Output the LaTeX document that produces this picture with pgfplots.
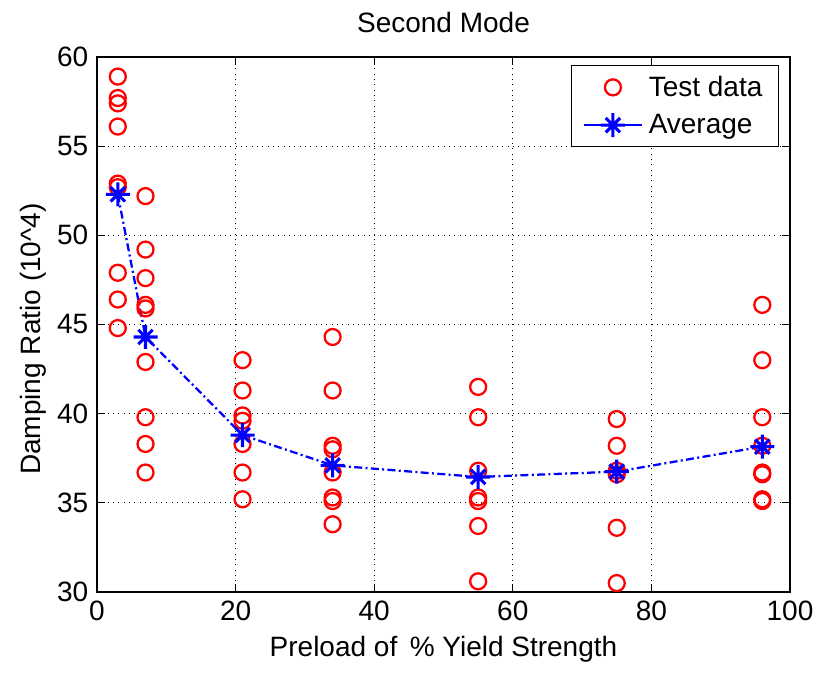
\documentclass[border=0pt]{standalone}
\usepackage{fontspec}
\setmainfont{Liberation Sans}
\usepackage{pgfplots}
\pgfplotsset{compat=1.18}
\pgfdeclareplotmark{mstar}{%
  \pgfpathmoveto{\pgfqpoint{-\pgfplotmarksize}{0pt}}%
  \pgfpathlineto{\pgfqpoint{\pgfplotmarksize}{0pt}}%
  \pgfpathmoveto{\pgfqpoint{0pt}{-\pgfplotmarksize}}%
  \pgfpathlineto{\pgfqpoint{0pt}{\pgfplotmarksize}}%
  \pgfpathmoveto{\pgfqpoint{-0.6\pgfplotmarksize}{-0.6\pgfplotmarksize}}%
  \pgfpathlineto{\pgfqpoint{0.6\pgfplotmarksize}{0.6\pgfplotmarksize}}%
  \pgfpathmoveto{\pgfqpoint{-0.6\pgfplotmarksize}{0.6\pgfplotmarksize}}%
  \pgfpathlineto{\pgfqpoint{0.6\pgfplotmarksize}{-0.6\pgfplotmarksize}}%
  \pgfusepathqstroke}
\pgfplotsset{
  circlegend/.style={legend image code/.code={\draw[##1] plot coordinates {(22pt,0pt)};}},
  starlegend/.style={legend image code/.code={\draw[##1, solid, mark repeat=2, mark phase=2] plot coordinates {(0pt,0pt)(22pt,0pt)(44pt,0pt)};}},
}
\definecolor{mred}{rgb}{1,0,0}
\definecolor{mblue}{rgb}{0,0,1}
\begin{document}
\begin{tikzpicture}
\path[use as bounding box] (-72.75pt,-60.75pt) rectangle (539.25pt,444pt);
\begin{axis}[
  at={(0,0)}, anchor=south west,
  scale only axis,
  width=519.75pt, height=401.25pt,
  xmin=0, xmax=100, ymin=30, ymax=60,
  xtick={0,20,...,100}, ytick={30,35,...,60},
  tick align=inside,
  major tick length=6pt,
  axis line style={line width=0.9pt},
  every tick/.style={black, line width=0.9pt},
  grid=major,
  major grid style={black, line width=0.7pt, dash pattern=on 0.8pt off 3.2pt},
  /pgf/number format/assume math mode=true,
  ticklabel style={font=\fontsize{21}{25}\selectfont},
  xticklabel style={yshift=-3pt},
  yticklabel style={xshift=-3pt},
  title={Second Mode},
  title style={font=\fontsize{21}{25}\selectfont, yshift=9pt},
  xlabel={Preload of \,\% Yield Strength},
  ylabel={Damping Ratio (10\textasciicircum 4)},
  label style={font=\fontsize{21}{25}\selectfont},
  xlabel style={yshift=-5pt},
  ylabel style={yshift=1pt, xshift=-11pt},
  legend style={at={(rel axis cs:0.984,0.985)}, anchor=north east,
    draw=black, line width=0.8pt, font=\fontsize{21}{25}\selectfont,
    inner xsep=8pt, inner ysep=6pt, row sep=8pt,
    nodes={inner xsep=4pt}},
  legend cell align=left,
]
\addplot[only marks, mark=o, mark size=6pt, mred, line width=1.7pt, circlegend] coordinates {
  (3,58.9) (3,57.7) (3,57.4) (3,56.1) (3,52.9) (3,52.7) (3,47.9) (3,46.4) (3,44.8)
  (7,52.2) (7,49.2) (7,47.6) (7,46.1) (7,45.9) (7,42.9) (7,39.8) (7,38.3) (7,36.7)
  (21,43.0) (21,41.3) (21,39.9) (21,39.6) (21,38.3) (21,36.7) (21,35.2)
  (34,44.3) (34,41.3) (34,38.2) (34,38.0) (34,36.7) (34,35.3) (34,35.1) (34,33.8)
  (55,41.5) (55,39.8) (55,36.8) (55,35.3) (55,35.1) (55,33.7) (55,30.6)
  (75,39.7) (75,38.2) (75,36.8) (75,36.6) (75,33.6) (75,30.5)
  (96,46.1) (96,43.0) (96,39.8) (96,38.2) (96,36.7) (96,36.6) (96,35.2) (96,35.1)
};
\addlegendentry{Test data}
\addplot[mblue, line width=1.7pt, dash pattern=on 6pt off 2.5pt on 1.5pt off 2.5pt,
  mark=mstar, mark size=9pt, mark options={solid, line width=2.3pt}, starlegend] coordinates {
  (3,52.3) (7,44.3) (21,38.8) (34,37.1) (55,36.45) (75,36.75) (96,38.15)
};
\addlegendentry{Average}
\end{axis}
\end{tikzpicture}
\end{document}
